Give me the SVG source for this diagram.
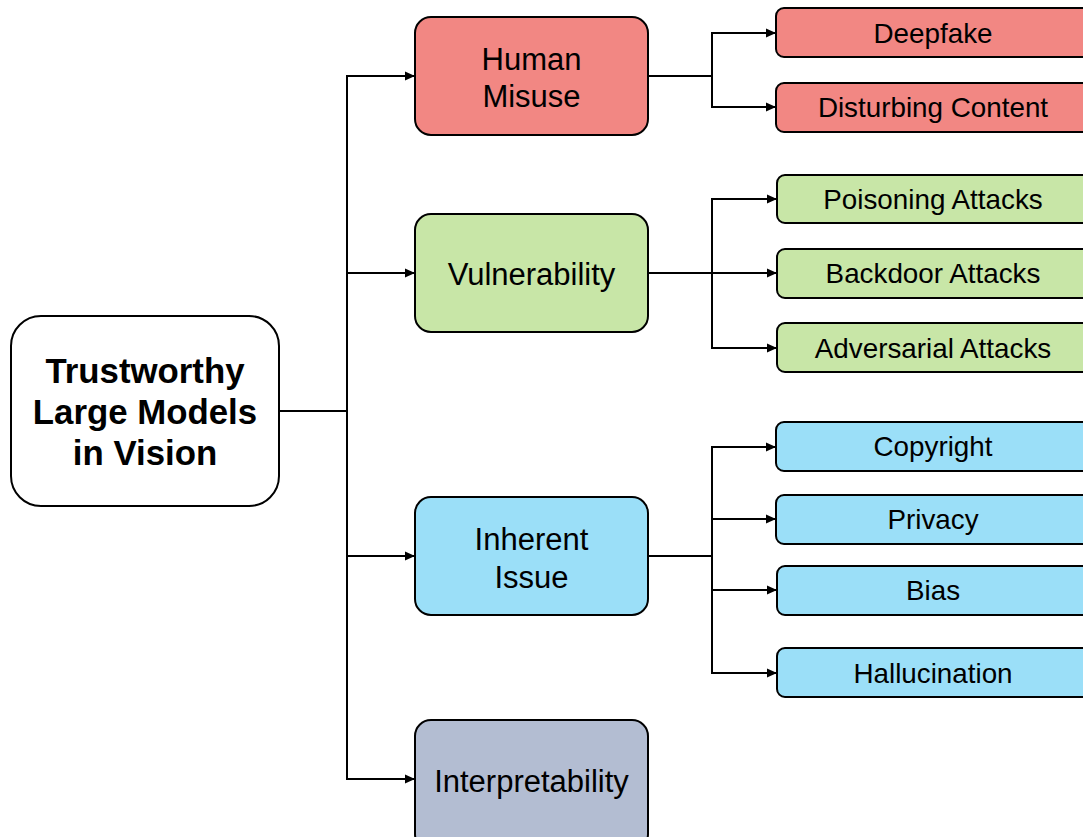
<svg xmlns="http://www.w3.org/2000/svg" width="1083" height="837" viewBox="0 0 1083 837">
<defs>
<marker id="arr" markerWidth="12" markerHeight="12" refX="10" refY="6" orient="auto" markerUnits="userSpaceOnUse">
<path d="M1,1.5 L11,6 L1,10.5 Z" fill="#000"/>
</marker>
<style>
.box{stroke:#000;stroke-width:2}
.red{fill:#F28783}
.green{fill:#C8E6A7}
.blue{fill:#9BDFF8}
.gray{fill:#B3BDD2}
.t{font-family:"Liberation Sans",Arial,sans-serif;fill:#000;text-anchor:middle}
.mid{font-size:31px}
.sub{font-size:27.8px}
.root{font-size:34.8px;font-weight:bold}
.c{fill:none;stroke:#000;stroke-width:2}
.a{fill:none;stroke:#000;stroke-width:1.8;marker-end:url(#arr)}
</style>
</defs>
<rect width="1083" height="837" fill="#fff"/>
<g id="connectors">
<path class="c" d="M279,411 H347"/>
<path class="c" d="M347,75 V780"/>
<path class="a" d="M347,76 H414"/>
<path class="a" d="M347,273 H414"/>
<path class="a" d="M347,556 H414"/>
<path class="a" d="M347,779 H414"/>
<path class="c" d="M648,76 H712"/>
<path class="c" d="M712,32 V108"/>
<path class="a" d="M712,33 H775"/>
<path class="a" d="M712,107 H775"/>
<path class="c" d="M648,273 H712"/>
<path class="c" d="M712,198 V349"/>
<path class="a" d="M712,199 H776"/>
<path class="a" d="M712,273 H776"/>
<path class="a" d="M712,348 H776"/>
<path class="c" d="M648,556 H712"/>
<path class="c" d="M712,446 V674"/>
<path class="a" d="M712,447 H775"/>
<path class="a" d="M712,519 H775"/>
<path class="a" d="M712,590 H776"/>
<path class="a" d="M712,673 H776"/>
</g>
<g id="root">
<rect class="box" x="11" y="316" width="268" height="190" rx="30" fill="#fff"/>
<text class="t root" x="145" y="383">Trustworthy</text>
<text class="t root" x="145" y="424">Large Models</text>
<text class="t root" x="145" y="465">in Vision</text>
</g>
<g id="human-misuse">
<rect class="box red" x="415" y="17" width="233" height="118" rx="16"/>
<text class="t mid" x="531.5" y="70">Human</text>
<text class="t mid" x="531.5" y="107">Misuse</text>
</g>
<g id="vulnerability">
<rect class="box green" x="415" y="214" width="233" height="118" rx="16"/>
<text class="t mid" x="531.5" y="285">Vulnerability</text>
</g>
<g id="inherent-issue">
<rect class="box blue" x="415" y="497" width="233" height="118" rx="16"/>
<text class="t mid" x="531.5" y="550">Inherent</text>
<text class="t mid" x="531.5" y="588">Issue</text>
</g>
<g id="interpretability">
<rect class="box gray" x="415" y="720" width="233" height="130" rx="16"/>
<text class="t mid" x="531.5" y="792">Interpretability</text>
</g>
<g id="deepfake">
<rect class="box red" x="776" y="8" width="320" height="49" rx="8"/>
<text class="t sub" x="933" y="43">Deepfake</text>
</g>
<g id="disturbing-content">
<rect class="box red" x="776" y="83" width="320" height="49" rx="8"/>
<text class="t sub" x="933" y="117">Disturbing Content</text>
</g>
<g id="poisoning-attacks">
<rect class="box green" x="777" y="175" width="320" height="48" rx="8"/>
<text class="t sub" x="933" y="209">Poisoning Attacks</text>
</g>
<g id="backdoor-attacks">
<rect class="box green" x="777" y="249" width="320" height="49" rx="8"/>
<text class="t sub" x="933" y="283">Backdoor Attacks</text>
</g>
<g id="adversarial-attacks">
<rect class="box green" x="777" y="323" width="320" height="49" rx="8"/>
<text class="t sub" x="933" y="358">Adversarial Attacks</text>
</g>
<g id="copyright">
<rect class="box blue" x="776" y="422" width="320" height="49" rx="8"/>
<text class="t sub" x="933" y="456">Copyright</text>
</g>
<g id="privacy">
<rect class="box blue" x="776" y="495" width="320" height="49" rx="8"/>
<text class="t sub" x="933" y="529">Privacy</text>
</g>
<g id="bias">
<rect class="box blue" x="777" y="566" width="320" height="49" rx="8"/>
<text class="t sub" x="933" y="600">Bias</text>
</g>
<g id="hallucination">
<rect class="box blue" x="777" y="648" width="320" height="49" rx="8"/>
<text class="t sub" x="933" y="683">Hallucination</text>
</g>
</svg>
